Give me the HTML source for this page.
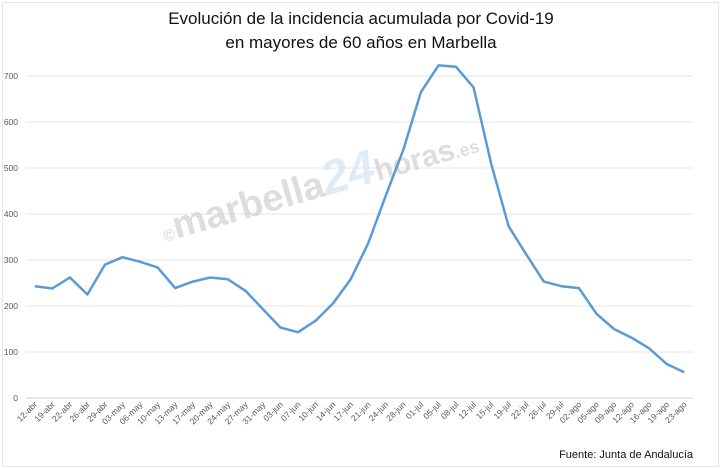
<!DOCTYPE html>
<html><head><meta charset="utf-8"><style>
body{margin:0;background:#fff;}
svg{display:block;font-family:"Liberation Sans",sans-serif;}
</style></head><body>
<svg id="chart" width="722" height="469" viewBox="0 0 722 469">
<rect x="2.5" y="2.5" width="716" height="464" fill="#fff" stroke="#e6e6e6"/>
<text x="361" y="24" text-anchor="middle" font-size="17" fill="#111">Evolución de la incidencia acumulada por Covid-19</text>
<text x="361" y="48" text-anchor="middle" font-size="17" fill="#111">en mayores de 60 años en Marbella</text>
<g id="grid"></g>
<g id="yticks"></g>
<g id="xticks"></g>
<g transform="translate(165,242) rotate(-16)">
<text x="0" y="0" font-size="38" font-weight="bold" fill="#d2d2d2" opacity="0.75"><tspan font-size="16">©</tspan>marbella<tspan fill="#d6e5f3" font-size="48" font-style="italic">24</tspan><tspan font-size="30">horas</tspan><tspan font-size="18">.es</tspan></text>
</g>
<path id="line" fill="none" stroke="#5b9bd5" stroke-width="2.5" stroke-linejoin="round"/>
<text x="693" y="458" text-anchor="end" font-size="11" fill="#111">Fuente: Junta de Andalucía</text>
</svg>
<script>
const categories=["12-abr","19-abr","22-abr","26-abr","29-abr","03-may","06-may","10-may","13-may","17-may","20-may","24-may","27-may","31-may","03-jun","07-jun","10-jun","14-jun","17-jun","21-jun","24-jun","28-jun","01-jul","05-jul","08-jul","12-jul","15-jul","19-jul","22-jul","26-jul","29-jul","02-ago","05-ago","09-ago","12-ago","16-ago","19-ago","23-ago"];
const values=[243,238,262,225,290,306,296,284,239,253,262,258,233,193,153,143,168,206,258,337,440,540,665,723,720,675,510,373,312,253,243,239,183,150,131,108,74,56];
const yTicks=[0,100,200,300,400,500,600,700];
const NS="http://www.w3.org/2000/svg";
const L=26,R=693,Y0=398,K=0.46;
const band=(R-L)/categories.length;
const xs=i=>L+band*(i+0.5);
const ys=v=>Y0-v*K;
const grid=document.getElementById('grid'),yt=document.getElementById('yticks'),xt=document.getElementById('xticks');
yTicks.forEach(t=>{
 const l=document.createElementNS(NS,'line');
 
 
 l.setAttribute('x1',L);l.setAttribute('x2',R);l.setAttribute('y1',ys(t));l.setAttribute('y2',ys(t));
 l.setAttribute('stroke',t===0?'#d0d0d0':'#e4e4e4');l.setAttribute('stroke-width','1');
 grid.appendChild(l);
 const tx=document.createElementNS(NS,'text');
 
 
 tx.setAttribute('x',18);tx.setAttribute('y',ys(t)+3);tx.setAttribute('text-anchor','end');
 tx.setAttribute('font-size','8.5');tx.setAttribute('fill','#595959');tx.textContent=t;
 yt.appendChild(tx);
});
categories.forEach((c,i)=>{
 const tx=document.createElementNS(NS,'text');
 
 
 const x=xs(i)+3,y=405;
 tx.setAttribute('x',x);tx.setAttribute('y',y);tx.setAttribute('text-anchor','end');
 tx.setAttribute('transform','rotate(-45 '+x+' '+y+')');
 tx.setAttribute('font-size','8.5');tx.setAttribute('fill','#595959');tx.textContent=c;
 xt.appendChild(tx);
});
document.getElementById('line').setAttribute('d',values.map((v,i)=>(i?'L':'M')+xs(i).toFixed(1)+','+ys(v).toFixed(1)).join(''));
</script>
</body></html>
